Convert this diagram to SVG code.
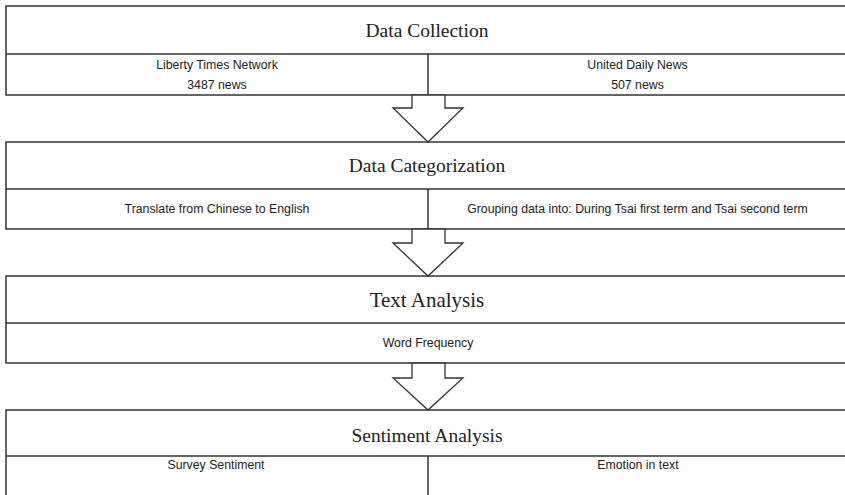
<svg xmlns="http://www.w3.org/2000/svg" width="845" height="495" viewBox="0 0 845 495">
<style>
.box{fill:#fff;stroke:#333;stroke-width:1.5}
.ln{stroke:#333;stroke-width:1.5;fill:none}
.title{font-family:"Liberation Serif","Times New Roman",serif;font-size:19.5px;fill:#222;text-anchor:middle}
.sub{font-family:"Liberation Sans",Arial,sans-serif;font-size:12.3px;fill:#222;text-anchor:middle}
.arrow{fill:#fff;stroke:#333;stroke-width:1.3;stroke-linejoin:miter}
</style>
<rect width="845" height="495" fill="#fff"/>
<g id="data-collection">
<rect class="box" x="6" y="6" width="845" height="89"/>
<line class="ln" x1="6" y1="54" x2="851" y2="54"/>
<line class="ln" x1="428" y1="54" x2="428" y2="95"/>
<text class="title" x="427" y="37">Data Collection</text>
<text class="sub" x="217" y="69">Liberty Times  Network</text>
<text class="sub" x="217" y="89">3487 news</text>
<text class="sub" x="637.5" y="69">United Daily News</text>
<text class="sub" x="637.5" y="89">507 news</text>
</g>
<g id="data-categorization">
<rect class="box" x="6" y="142" width="845" height="87"/>
<line class="ln" x1="6" y1="189" x2="851" y2="189"/>
<line class="ln" x1="428" y1="189" x2="428" y2="229"/>
<text class="title" x="427" y="172">Data Categorization</text>
<text class="sub" x="217" y="213">Translate  from Chinese to English</text>
<text class="sub" x="637.5" y="213">Grouping data  into: During Tsai first term and Tsai second term</text>
</g>
<g id="text-analysis">
<rect class="box" x="6" y="276" width="845" height="87"/>
<line class="ln" x1="6" y1="323" x2="851" y2="323"/>
<text class="title" x="427" y="307" style="font-size:21px">Text Analysis</text>
<text class="sub" x="428" y="347">Word  Frequency</text>
</g>
<g id="sentiment-analysis">
<rect class="box" x="6" y="410" width="845" height="95"/>
<line class="ln" x1="6" y1="456" x2="851" y2="456"/>
<line class="ln" x1="428" y1="456" x2="428" y2="505"/>
<text class="title" x="427" y="442">Sentiment Analysis</text>
<text class="sub" x="216" y="469">Survey  Sentiment</text>
<text class="sub" x="638" y="469">Emotion in text</text>
</g>
<g id="connectors">
<polygon class="arrow" points="412,95 445,95 445,108 463,108 428,142 393,108 412,108"/>
<polygon class="arrow" points="412,229 445,229 445,243 463,243 428,276 393,243 412,243"/>
<polygon class="arrow" points="412,363 445,363 445,378 463,378 428,410 393,378 412,378"/>
</g>
</svg>
